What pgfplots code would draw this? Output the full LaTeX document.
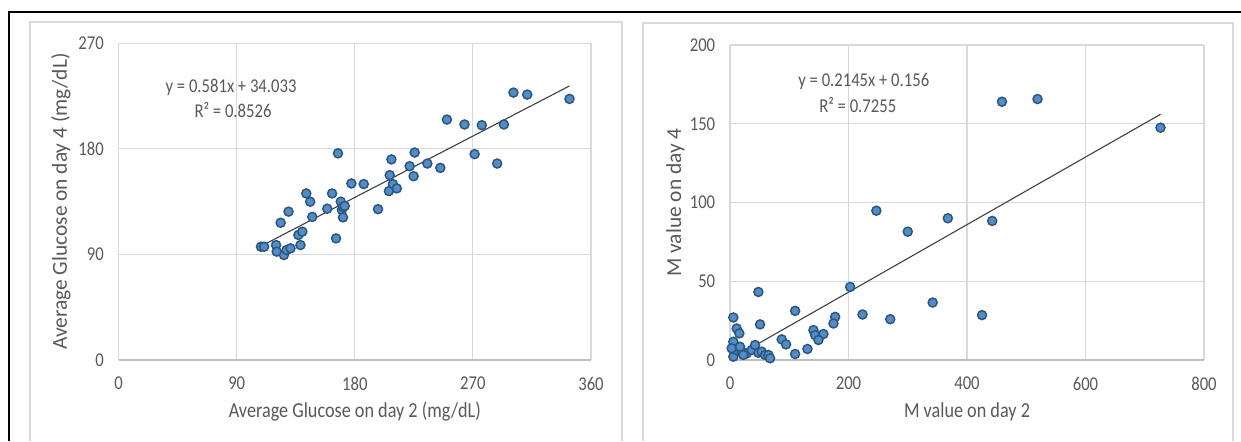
\documentclass[border=0pt]{standalone}
\usepackage{pgfplots}
\pgfplotsset{compat=1.18}
\usepackage{fontspec}
\setmainfont{Carlito}[FakeStretch=0.85]
\newfontfamily\rotlabelfont{Carlito}

\definecolor{gridgray}{HTML}{D9D9D9}
\definecolor{axisgray}{HTML}{BFBFBF}
\definecolor{areagray}{HTML}{D9D9D9}
\definecolor{labelgray}{HTML}{595959}
\definecolor{markfill}{HTML}{4F8DCB}
\definecolor{markedge}{HTML}{2C5780}
\definecolor{trendgray}{HTML}{404040}

\pgfplotsset{
  excelscatter/.style={
    scale only axis,
    clip=false,
    separate axis lines,
    axis x line*=bottom,
    axis y line*=left,
    x axis line style={draw=axisgray, line width=0.6pt, -},
    y axis line style={draw=none, -},
    grid=major,
    major grid style={draw=gridgray, line width=0.6pt},
    major tick length=0pt,
    tick style={draw=none},
    tick label style={font=\fontsize{9.8}{11}\selectfont, text=labelgray},
    /pgf/number format/assume math mode=true,
    xticklabel style={yshift=-5.1pt},
    yticklabel style={xshift=-3.9pt},
    xlabel style={font=\fontsize{10.7}{12}\selectfont, text=labelgray, anchor=center},
    ylabel style={font=\rotlabelfont\fontsize{10.7}{12}\selectfont, text=labelgray, anchor=center},
  },
  pts/.style={only marks, mark=*, mark size=2.25pt,
    mark options={fill=markfill, draw=markedge, line width=0.75pt}},
  trend/.style={trendgray, line width=0.55pt, no marks},
}
\tikzset{eqlabel/.style={font=\fontsize{9.8}{11}\selectfont, text=labelgray, anchor=center}}

\begin{document}
\begin{tikzpicture}
\useasboundingbox (0pt,0pt) rectangle (620.5pt,220.5pt);

% outer frame: top rule across the page and left rule
\draw[black, line width=0.9pt] (4.65pt,0pt) -- (4.65pt,214.5pt) -- (620.5pt,214.5pt);

% chart area borders
\draw[areagray, line width=0.6pt] (15pt,0pt) -- (15pt,209.5pt) -- (311pt,209.5pt) -- (311pt,0pt);
\draw[areagray, line width=0.6pt] (321.5pt,0pt) -- (321.5pt,209pt) -- (616.5pt,209pt) -- (616.5pt,0pt);

% average glucose, day 2 vs day 4
\begin{axis}[excelscatter,
  at={(59.3pt,40.5pt)}, anchor=south west,
  width=236.2pt, height=158.35pt,
  xmin=0, xmax=360, ymin=0, ymax=270,
  xtick={0,90,180,270,360}, ytick={0,90,180,270},
  xlabel={Average Glucose on day 2 (mg/dL)},
  ylabel={Average Glucose on day 4 (mg/dL)},
  xlabel style={at={(axis description cs:0.5,-0.164)}},
  ylabel style={at={(axis description cs:-0.122,0.5)}},
]
\addplot[pts] coordinates {
  (108.5,96.6) (110.9,96.6) (120,98) (120.5,92.4) (123.5,117) (126,89.5)
  (128,93.8) (129.5,126.5) (131,95.2) (137,106.6) (138.6,98) (140,109.4)
  (143,142) (146,135) (147.6,122) (159,129) (162.7,142) (165.7,103.7)
  (167.2,176.2) (169.3,135) (170.2,128) (171,130.7) (171,121.6) (172.3,131.3)
  (177.4,150.5) (186.8,150) (197.7,128.6) (206,144) (206.6,157.6) (207.9,171)
  (209,150) (212,146.3) (221.8,165.2) (224.8,156.7) (225.6,176.9) (235.3,167.5)
  (245.2,163.8) (250.2,205) (263.6,200.8) (271.3,175.5) (276.8,200.2)
  (288.5,167.5) (293.6,200.8) (300.9,228) (311.4,226.3) (343.6,222.6)
};
\addplot[trend] coordinates {(108.5,97.07) (343.6,233.67)};
\node[eqlabel] at (axis cs:85.7,232.8) {y = 0.581x + 34.033};
\node[eqlabel] at (axis cs:87.2,213.2) {R² = 0.8526};
\end{axis}

% M value, day 2 vs day 4
\begin{axis}[excelscatter,
  at={(365pt,40.5pt)}, anchor=south west,
  width=237pt, height=157.5pt,
  xmin=0, xmax=800, ymin=0, ymax=200,
  xtick={0,200,400,600,800}, ytick={0,50,100,150,200},
  xlabel={M value on day 2},
  ylabel={M value on day 4},
  xlabel style={at={(axis description cs:0.5,-0.165)}},
  ylabel style={at={(axis description cs:-0.115,0.5)}},
]
\addplot[pts] coordinates {
  (459,164) (519,165.7) (726.6,147.5) (247,94.8) (367.6,90) (442.5,88.3)
  (300,81.5) (202.8,46.4) (47.9,43.2) (342,36.5) (109.9,31.2) (223.7,28.9)
  (270.4,25.9) (425.4,28.5) (5.6,27) (177.5,27.4) (174.6,23.2) (50.7,22.6)
  (11.3,20) (15.8,16.9) (140.8,19) (143.7,15.8) (157.7,16.5) (149.3,12.7)
  (87.3,13.1) (94.6,9.9) (130.7,7) (109.9,3.8) (5.6,11.6) (5.6,2.1)
  (11.3,6.3) (19.7,5.3) (28.2,4.2) (36.6,6.3) (42.3,9.5) (47.9,4.6)
  (53.5,5.3) (59.2,3.2) (64.8,3.2) (67.6,1.1) (2.8,7.4) (22.5,3.2) (16.9,8.4)
};
\addplot[trend] coordinates {(2.8,0.757) (726.6,156.01)};
\node[eqlabel] at (axis cs:225.8,176.7) {y = 0.2145x + 0.156};
\node[eqlabel] at (axis cs:215.6,161.9) {R² = 0.7255};
\end{axis}
\end{tikzpicture}
\end{document}
